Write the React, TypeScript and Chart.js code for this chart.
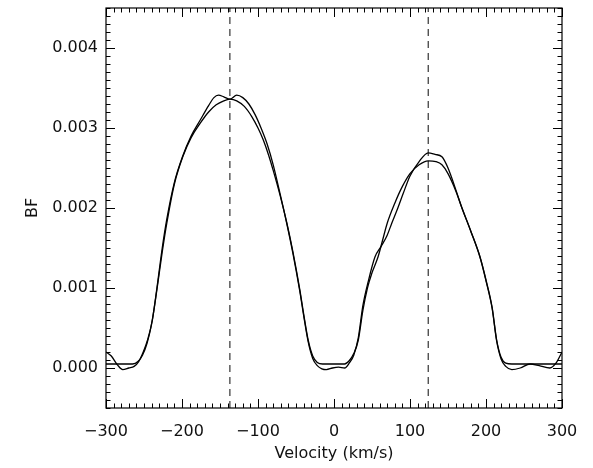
import React, { useEffect, useRef } from "react";
import { Chart, registerables } from "chart.js";

Chart.register(...registerables);

// Curve A (smooth profile)
const velA = [-300, -265, -258, -252, -246, -240, -233, -226, -220, -210, -199, -188, -176, -165, -155, -145, -137, -128, -118, -108, -100, -93, -86, -80, -71, -62, -54, -45, -40, -34, -28, -22, -15, 14, 20, 26, 32, 38, 44, 50, 58, 64, 70, 80, 90, 100, 112, 124, 134, 142, 150, 160, 168, 180, 192, 200, 208, 214, 220, 226, 234, 300];
const bfA = [0.00005, 0.00005, 0.00008, 0.00016, 0.00031, 0.00055, 0.00098, 0.00145, 0.00181, 0.0023, 0.00264, 0.00288, 0.00306, 0.0032, 0.00329, 0.00334, 0.00336, 0.00334, 0.00327, 0.00314, 0.003, 0.00285, 0.00266, 0.00247, 0.00216, 0.00181, 0.00145, 0.00098, 0.00068, 0.00035, 0.00015, 0.00007, 0.00005, 0.00005, 0.00009, 0.00018, 0.00035, 0.00072, 0.001, 0.00119, 0.00139, 0.0016, 0.00181, 0.00206, 0.00227, 0.00243, 0.00254, 0.00259, 0.00258, 0.00254, 0.00243, 0.00222, 0.00201, 0.00171, 0.00139, 0.0011, 0.00076, 0.00035, 0.00013, 0.00006, 0.00005, 0.00005];

// Curve B (wiggly broadening function)
const velB = [-300, -293, -285, -278, -270, -263, -257, -251, -245, -239, -233, -226, -220, -210, -199, -188, -176, -165, -158, -152, -145, -137, -128, -120, -112, -104, -96, -88, -80, -71, -62, -54, -45, -40, -34, -28, -22, -16, -10, -2, 6, 14, 20, 26, 32, 38, 45, 54, 62, 70, 76, 84, 91, 100, 112, 124, 133, 142, 150, 162, 168, 180, 192, 200, 208, 214, 220, 226, 234, 245, 258, 270, 284, 292, 300];
const bfB = [0.0002, 0.00015, 0.00004, -0.00002, 0.0, 0.00002, 0.00008, 0.0002, 0.00036, 0.0006, 0.001, 0.0015, 0.00186, 0.00232, 0.00265, 0.0029, 0.0031, 0.00328, 0.00338, 0.00341, 0.00339, 0.00336, 0.00341, 0.00338, 0.0033, 0.00317, 0.003, 0.0028, 0.00254, 0.00218, 0.0018, 0.00143, 0.00096, 0.00066, 0.00033, 0.00012, 0.00003, -0.00001, -0.00002, 0.0, 0.00001, 0.0, 0.00006, 0.00016, 0.00038, 0.00078, 0.00108, 0.00139, 0.00152, 0.00166, 0.00181, 0.002, 0.00218, 0.0024, 0.00258, 0.00269, 0.00267, 0.00264, 0.0025, 0.00218, 0.00201, 0.00171, 0.00139, 0.00109, 0.00075, 0.00034, 0.00011, 0.00002, -0.00002, 0.0, 0.00005, 0.00003, 0.0, 0.00006, 0.0002];

// Component velocities (dashed markers)
const markerVel = [-137, 124];

const xTicks = [-300, -200, -100, 0, 100, 200, 300];
const yTicks = [0.0, 0.001, 0.002, 0.003, 0.004];
const xMin = -300, xMax = 300, yMin = -0.0005, yMax = 0.0045;

const FONT = "'DejaVu Sans', sans-serif";

const toPts = (xs: number[], ys: number[]) => xs.map((v, i) => ({ x: v, y: ys[i] }));

const frameTicks = {
  id: "frameTicks",
  afterDraw(chart: any) {
    const { ctx, chartArea } = chart;
    const { left, right, top, bottom } = chartArea;
    const xs = chart.scales.x;
    const ys = chart.scales.y;
    ctx.save();
    ctx.strokeStyle = "#000";
    ctx.lineWidth = 1.2;
    ctx.strokeRect(left, top, right - left, bottom - top);
    ctx.lineWidth = 1;
    ctx.beginPath();
    for (let i = 0; i < xTicks.length; i++) {
      const px = Math.round(xs.getPixelForValue(xTicks[i])) + 0.5;
      ctx.moveTo(px, bottom); ctx.lineTo(px, bottom - 9);
      ctx.moveTo(px, top); ctx.lineTo(px, top + 9);
      if (i < xTicks.length - 1) {
        const step = (xTicks[i + 1] - xTicks[i]) / 10;
        for (let k = 1; k < 10; k++) {
          const mp = Math.round(xs.getPixelForValue(xTicks[i] + k * step)) + 0.5;
          ctx.moveTo(mp, bottom); ctx.lineTo(mp, bottom - 4.5);
          ctx.moveTo(mp, top); ctx.lineTo(mp, top + 4.5);
        }
      }
    }
    const yStep = 0.0001;
    for (let v = yMin; v <= yMax + 1e-9; v += yStep) {
      const py = Math.round(ys.getPixelForValue(v)) + 0.5;
      const isMajor = Math.abs(Math.round(v / 0.001) * 0.001 - v) < 1e-9;
      const len = isMajor ? 9 : 4.5;
      ctx.moveTo(left, py); ctx.lineTo(left + len, py);
      ctx.moveTo(right, py); ctx.lineTo(right - len, py);
    }
    ctx.stroke();
    ctx.restore();
  },
};

export default function App() {
  const ref = useRef<HTMLCanvasElement>(null);
  useEffect(() => {
    const canvas = ref.current!;
    const lineStyle = {
      borderColor: "#000",
      borderWidth: 1.3,
      pointRadius: 0,
      fill: false,
      cubicInterpolationMode: "monotone" as const,
    };
    const markerSets = markerVel.map((v) => ({
      data: [{ x: v, y: yMin }, { x: v, y: yMax }],
      borderColor: "#333",
      borderWidth: 1.2,
      borderDash: [7, 5],
      pointRadius: 0,
      fill: false,
    }));
    const chart = new Chart(canvas, {
      type: "line",
      data: {
        datasets: [
          { data: toPts(velA, bfA), ...lineStyle },
          { data: toPts(velB, bfB), ...lineStyle },
          ...markerSets,
        ],
      },
      options: {
        animation: false,
        responsive: false,
        devicePixelRatio: 1,
        layout: { padding: { left: 0, right: 31, top: 8, bottom: 0 } },
        plugins: { legend: { display: false }, tooltip: { enabled: false } },
        scales: {
          x: {
            type: "linear",
            min: xMin,
            max: xMax,
            afterBuildTicks: (s: any) => { s.ticks = xTicks.map((v) => ({ value: v })); },
            afterFit: (s: any) => { s.height = 60; s.paddingLeft = 0; s.paddingRight = 0; },
            grid: { display: false, drawTicks: false },
            border: { display: false },
            ticks: {
              autoSkip: false,
              maxRotation: 0,
              padding: 14,
              color: "#111",
              font: { family: FONT, size: 16 },
              callback: (v: any) => (Number(v) < 0 ? "\u2212" + Math.abs(Number(v)) : String(v)),
            },
            title: {
              display: true,
              text: "Velocity (km/s)",
              color: "#111",
              font: { family: FONT, size: 16 },
              padding: { top: 0, bottom: 5 },
            },
          },
          y: {
            type: "linear",
            min: yMin,
            max: yMax,
            afterBuildTicks: (s: any) => { s.ticks = yTicks.map((v) => ({ value: v })); },
            afterFit: (s: any) => { s.width = 106; s.paddingTop = 0; s.paddingBottom = 0; },
            grid: { display: false, drawTicks: false },
            border: { display: false },
            ticks: {
              padding: 8,
              color: "#111",
              font: { family: FONT, size: 16 },
              callback: (v: any) => Number(v).toFixed(3),
            },
            title: {
              display: true,
              text: "BF",
              color: "#111",
              font: { family: FONT, size: 16 },
              padding: { top: 23, bottom: 0 },
            },
          },
        },
      },
      plugins: [frameTicks],
    });
    return () => chart.destroy();
  }, []);
  return (
    <div style={{ position: "absolute", left: 0, top: 0, width: 593, height: 468, background: "#fff" }}>
      <canvas ref={ref} width={593} height={468} style={{ display: "block" }} />
    </div>
  );
}
